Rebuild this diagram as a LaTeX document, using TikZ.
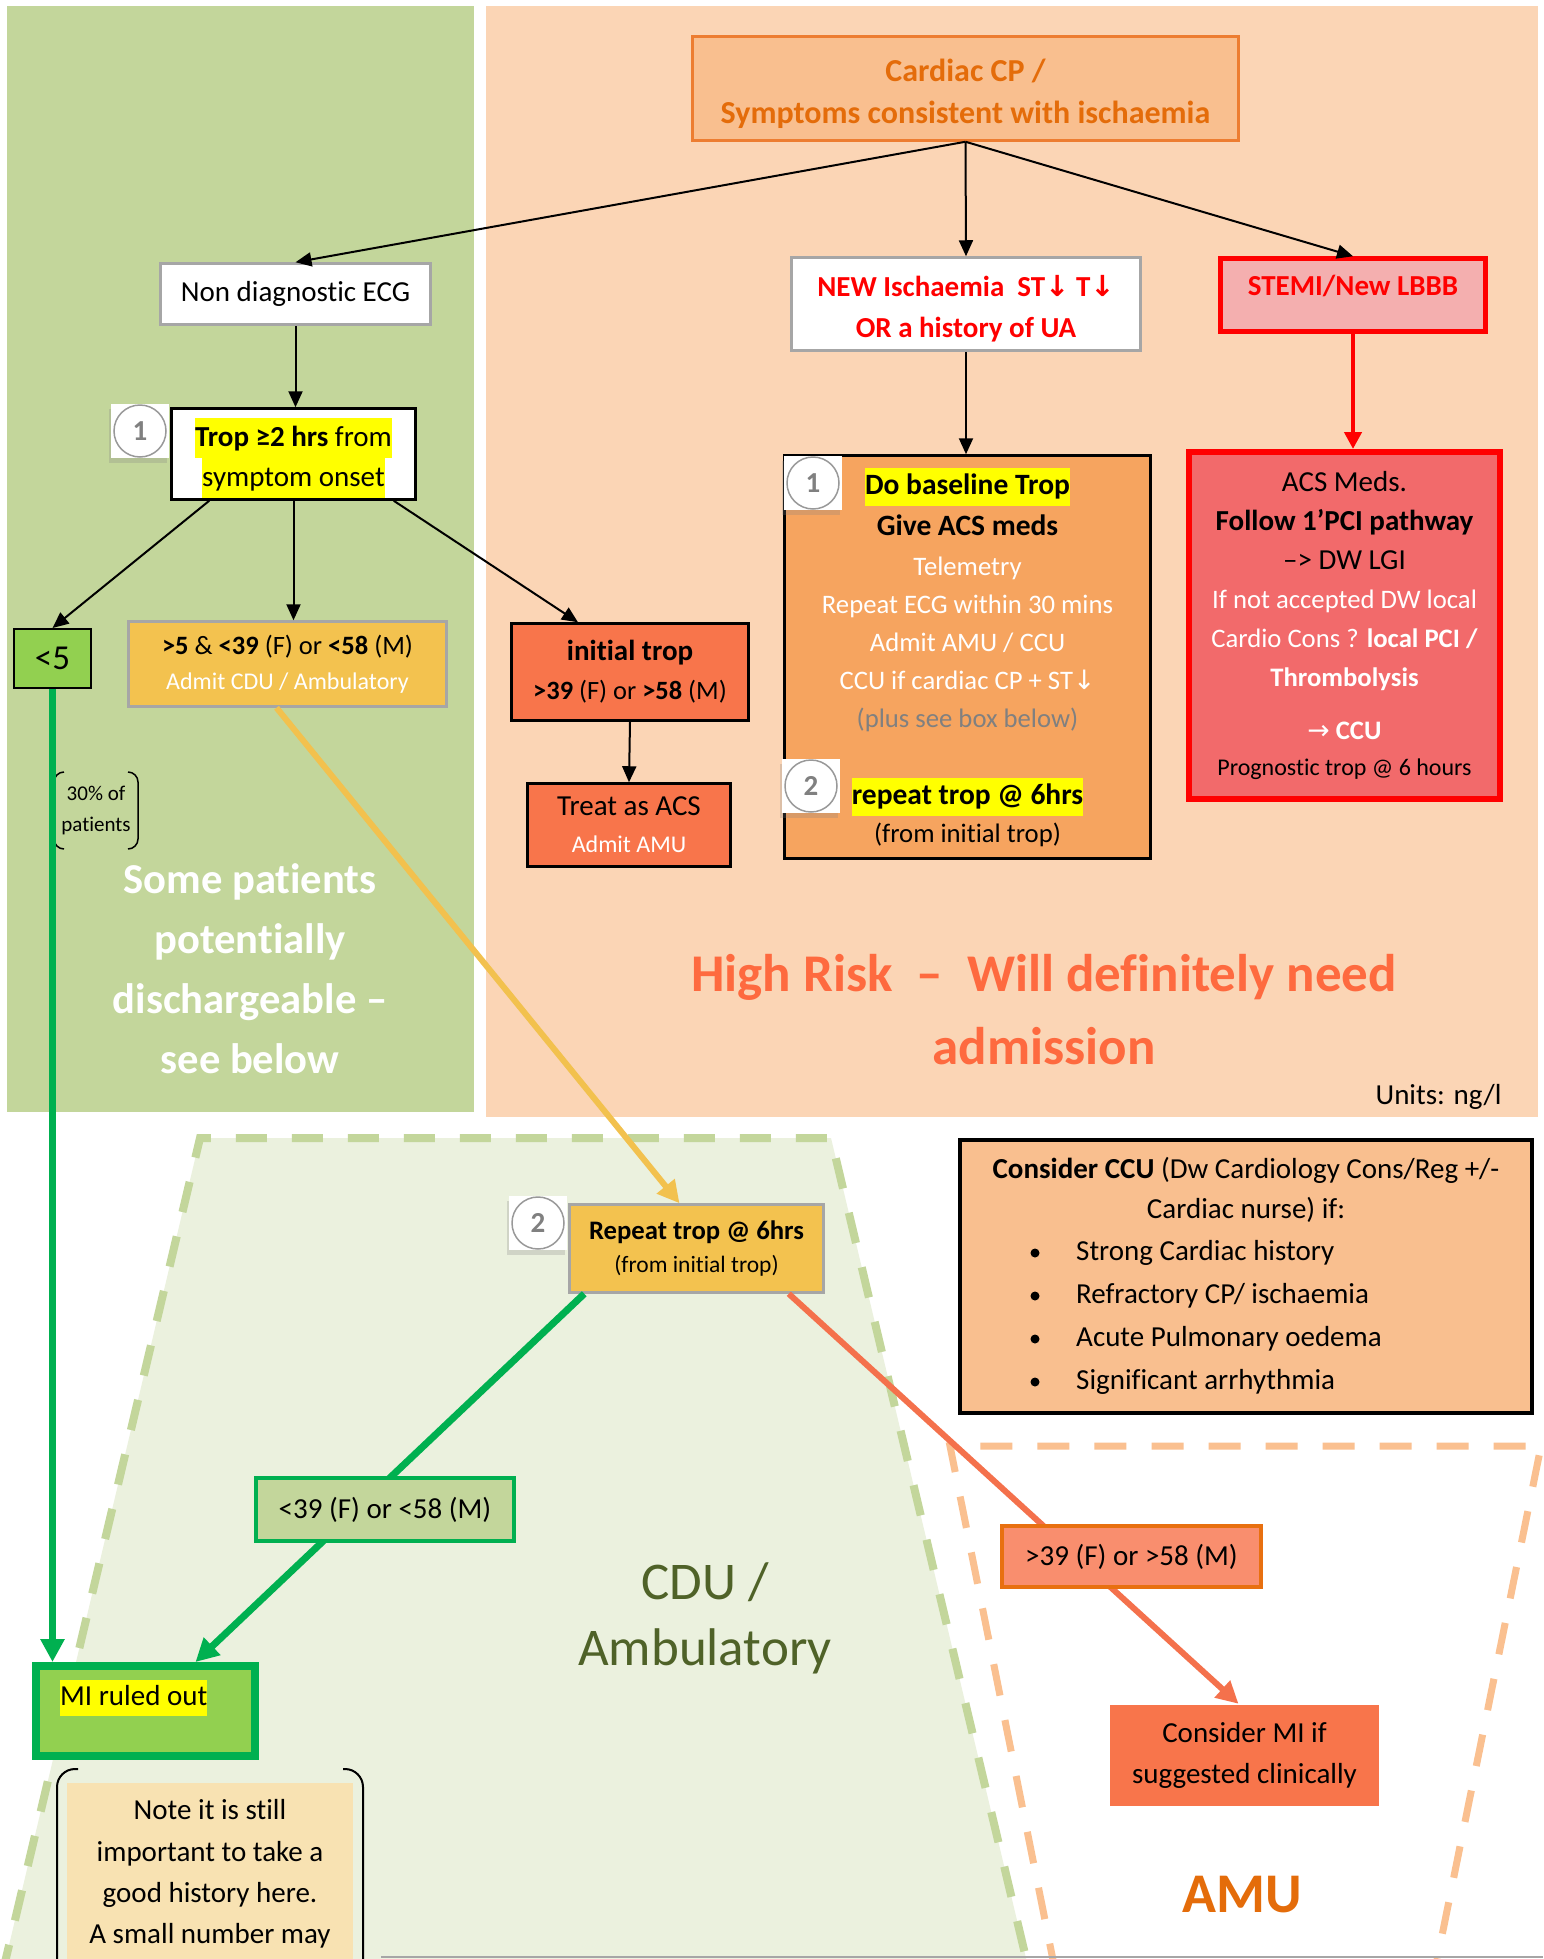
\documentclass[tikz,border=0pt]{standalone}
\usepackage{fontspec}
\setmainfont{Carlito}[Ligatures={TeX,NoCommon}]
\newfontfamily\symfont{DejaVu Sans}
\usetikzlibrary{arrows.meta,shadows}

\definecolor{panelgreen}{HTML}{C3D69B}
\definecolor{panelpeach}{HTML}{FBD5B5}
\definecolor{cdufill}{HTML}{EBF1DE}
\definecolor{amudash}{HTML}{FAC090}
\definecolor{cpfill}{HTML}{F9BF8F}
\definecolor{cpline}{HTML}{ED7D31}
\definecolor{cptext}{HTML}{E46C0A}
\definecolor{basefill}{HTML}{F6A45F}
\definecolor{acsfill}{HTML}{F26A6B}
\definecolor{stemifill}{HTML}{F4AFAF}
\definecolor{coralfill}{HTML}{F8754B}
\definecolor{goldfill}{HTML}{F3C24F}
\definecolor{hifill}{HTML}{F98E6E}
\definecolor{hiline}{HTML}{E87010}
\definecolor{okgreen}{HTML}{92D050}
\definecolor{darkgreen}{HTML}{00B050}
\definecolor{cduolive}{HTML}{4F6228}
\definecolor{riskred}{HTML}{FE6A3F}
\definecolor{notefill}{HTML}{F8E2B2}
\definecolor{hlyellow}{HTML}{FFFF00}
\definecolor{boxgray}{HTML}{A6A6A6}
\definecolor{plusgray}{HTML}{808080}
\definecolor{yellowline}{HTML}{F2C14E}
\definecolor{coralline}{HTML}{F4714C}

\newcommand\fsz[2]{\fontsize{#1}{#2}\selectfont}
\newcommand\hl[1]{{\fboxsep=0pt\colorbox{hlyellow}{\strut#1}}}
\newcommand\dn{{\symfont ↓}}

\tikzset{
  box/.style={draw, line width=2.5pt, align=center, inner sep=0pt},
  arr/.style={line width=2pt, -{Triangle[length=16pt,width=14pt]}},
  redarr/.style={red, line width=4.5pt, -{Triangle[length=17pt,width=17pt]}},
  greenarr/.style={darkgreen, line width=7pt, -{Triangle[length=23pt,width=23pt]}},
  yellowarr/.style={yellowline, line width=6pt, -{Triangle[length=22pt,width=22pt]}},
  coralarr/.style={coralline, line width=6pt, -{Triangle[length=22pt,width=22pt]}},
  badgesq/.style={fill=white, minimum width=58pt, minimum height=54pt, inner sep=0pt,
    drop shadow={opacity=.25, shadow xshift=-2pt, shadow yshift=-5pt}},
  badgeno/.style={circle, draw=gray!80, line width=1.5pt, minimum size=52pt, inner sep=0pt,
    text=gray, font=\fsz{29}{35}\bfseries},
}

\newcommand\badge[3]{%
  \node[badgesq] (#1sq) at (#2) {};
  \node[badgeno] (#1) at (#2) {#3};}

\begin{document}
\begin{tikzpicture}[x=1pt,y=-1pt]

    \def\cdutrap{(2,1975) -- (200,1138) -- (831,1138) -- (1030,1975)}
    \def\amutrap{(1056,1975) -- (950,1446) -- (1541,1446) -- (1434,1975)}

    \clip (0,0) rectangle (1543,1959);
    \fill[white] (0,0) rectangle (1543,1959);

    %panels:
    \fill[panelgreen] (7,6) rectangle (474,1112);
    \fill[panelpeach] (486,6) rectangle (1538,1117);

    %CDU and AMU areas:
    \fill[cdufill] \cdutrap -- cycle;
    \draw[panelgreen, line width=8pt, dash pattern=on 31pt off 25pt] \cdutrap;
    \draw[amudash, line width=7pt, dash pattern=on 32pt off 25pt] \amutrap;

    %big labels:
    \node[font=\fsz{42.6}{60}\bfseries, text=white, align=center] (some) at (250,969)
        {Some patients\\potentially\\dischargeable –\\see below};
    \node[font=\fsz{53}{73}\bfseries, text=riskred, align=center] (risk) at (1044,1010)
        {High Risk\ \ –\ \ Will definitely need\\admission};
    \node[font=\fsz{29}{35}, anchor=east] (units) at (1505,1097) {Units: ng/l};
    \node[font=\fsz{53}{66}, text=cduolive, align=center] (cdu) at (705,1618) {CDU /\\Ambulatory};
    \node[font=\fsz{56}{60}\bfseries, text=cptext] (amu) at (1242,1895) {AMU};

    %30% bracket:
    \node[font=\fsz{21}{31}, align=center] (pct) at (96,810) {30\% of\\patients};
    \draw[line width=1.5pt, rounded corners=10pt] (64,772) -- (54,772) -- (54,849) -- (64,849);
    \draw[line width=1.5pt, rounded corners=10pt] (128,772) -- (138,772) -- (138,849) -- (128,849);

    %note:
    \fill[notefill] (67,1783) rectangle (353,1990);
    \draw[line width=2pt, rounded corners=18pt] (78,1769) -- (57,1769) -- (57,1975);
    \draw[line width=2pt, rounded corners=18pt] (343,1769) -- (363,1769) -- (363,1975);
    \node[font=\fsz{29}{41.3}, align=center] (note) at (210,1874)
        {Note it is still\\important to take a\\good history here.\\A small number may};

    %boxes:
    \node[box, draw=cpline, fill=cpfill, minimum width=546pt, minimum height=104pt] (cp) at (965.5,88.5) {};
    \node[font=\fsz{32}{42}\bfseries, text=cptext, align=center] (cptext) at (965.5,94)
        {Cardiac CP /\\Symptoms consistent with ischaemia};
    \node[box, draw=boxgray, fill=white, minimum width=270pt, minimum height=61pt,
        font=\fsz{29}{35}] (nondiag) at (295.5,294) {Non diagnostic ECG};
    \node[box, fill=white, minimum width=244pt, minimum height=91pt] (trop) at (293.5,454) {};
    \node[font=\fsz{29}{40}, align=center] (troptext) at (293.5,458)
        {\hl{\textbf{Trop ≥2 hrs} from}\\\hl{symptom onset}};
    \node[box, draw=boxgray, fill=white, minimum width=349pt, minimum height=93pt] (newis) at (966,304) {};
    \node[font=\fsz{29}{41}\bfseries, text=red, align=center] (newistext) at (966,309)
        {NEW Ischaemia\ \ ST\dn{} T\dn\\OR a history of UA};
    \node[box, draw=red, line width=4.5pt, fill=stemifill, minimum width=265pt, minimum height=73pt,
        font=\fsz{29}{35}\bfseries, text=red, text depth=19pt] (stemi) at (1353,295) {STEMI/New LBBB};
    \node[box, fill=basefill, minimum width=366pt, minimum height=403pt,
        font=\fsz{26.7}{38}] (base) at (967.5,657)
        {\hl{\fsz{29.5}{38}\bfseries Do baseline Trop}\\[3pt]
         {\fsz{29.5}{38}\bfseries Give ACS meds}\\[2pt]
         \textcolor{white}{Telemetry}\\
         \textcolor{white}{Repeat ECG within 30 mins}\\
         \textcolor{white}{Admit AMU / CCU}\\
         \textcolor{white}{CCU if cardiac CP + ST\dn}\\
         \textcolor{plusgray}{(plus see box below)}\\[39pt]
         \hl{\fsz{29.5}{38}\bfseries repeat trop @ 6hrs}\\
         (from initial trop)};
    \node[box, draw=red, line width=6pt, fill=acsfill, minimum width=311pt, minimum height=347pt,
        font=\fsz{29}{39}] (acs) at (1344.5,625.5)
        {ACS Meds.\\
         \textbf{Follow 1’PCI pathway}\\
         –> DW LGI\\
         \textcolor{white}{\fsz{26.7}{38}If not accepted DW local}\\
         \textcolor{white}{\fsz{26.7}{38}Cardio Cons ? \textbf{local PCI /}}\\
         \textcolor{white}{\fsz{26.7}{38}\textbf{Thrombolysis}}\\[14pt]
         \textcolor{white}{\fsz{26.7}{38}{\symfont →} \textbf{CCU}}\\[-3pt]
         {\fsz{24}{36}Prognostic trop @ 6 hours}};
    \node[box, line width=2pt, fill=okgreen, minimum width=77pt, minimum height=59pt,
        font=\fsz{35}{40}] (lt5) at (52.5,658.5) {<5};
    \node[box, draw=boxgray, fill=goldfill, minimum width=318pt, minimum height=85pt,
        font=\fsz{26.5}{35}] (mid) at (287.5,664)
        {\textbf{>5} \& \textbf{<39} (F) or \textbf{<58} (M)\\
         \textcolor{white}{\fsz{24}{35}Admit CDU / Ambulatory}};
    \node[box, fill=coralfill, minimum width=237pt, minimum height=97pt,
        font=\fsz{26.4}{39}] (init) at (630,672)
        {{\fsz{29}{39}\bfseries initial trop}\\\textbf{>39} (F) or \textbf{>58} (M)};
    \node[box, fill=coralfill, minimum width=203pt, minimum height=83pt,
        font=\fsz{29}{37}] (treat) at (629,825)
        {Treat as ACS\\\textcolor{white}{\fsz{24}{37}Admit AMU}};
    \node[box, draw=boxgray, fill=goldfill, minimum width=254pt, minimum height=88pt,
        font=\fsz{26.7}{33}] (rep) at (696.5,1248.5)
        {\textbf{Repeat trop @ 6hrs}\\{\fsz{23.5}{33}(from initial trop)}};
    \node[box, draw=darkgreen, line width=8pt, fill=okgreen, minimum width=219pt,
        minimum height=90pt] (mi) at (145.5,1711) {};
    \node[font=\fsz{29}{36}, anchor=west, inner sep=0pt] (mitext) at (60,1698) {\hl{MI ruled out}};
    \node[box, draw=none, fill=coralfill, minimum width=269pt, minimum height=101pt,
        font=\fsz{29}{41}] (cmi) at (1244.5,1755.5) {Consider MI if\\suggested clinically};

    %consider CCU box:
    \node[box, line width=4pt, fill=cpfill, minimum width=572pt, minimum height=273pt] (ccu) at (1246,1276.5) {};
    \node[font=\fsz{29}{40}, align=center] (ccuhead) at (1246,1190)
        {\textbf{Consider CCU} (Dw Cardiology Cons/Reg +/-\\Cardiac nurse) if:};
    \foreach \y/\t in {1253/{Strong Cardiac history}, 1296/{Refractory CP/ ischaemia},
                      1339/{Acute Pulmonary oedema}, 1382/{Significant arrhythmia}} {
        \fill (1035,\y) circle (4.5pt);
        \node[font=\fsz{29}{40}, anchor=west, inner sep=0pt] (item\y) at (1076,\y) {\t};
    }

    %connectors:
    \draw[arr] (cp.south) -- (nondiag.north);
    \draw[arr] (cp.south) -- (newis.north);
    \draw[arr] (cp.south) -- (stemi.north);
    \draw[arr] (nondiag.south) -- (nondiag.south |- trop.north);
    \draw[arr] ([xshift=39pt]trop.south west) -- (lt5.north);
    \draw[arr] (trop.south) -- (trop.south |- mid.north);
    \draw[arr] ([xshift=-23pt]trop.south east) -- ([xshift=-52pt]init.north);
    \draw[arr] (init.south) -- (treat.north);
    \draw[arr] (newis.south) -- (newis.south |- base.north);
    \draw[redarr] (stemi.south) -- (stemi.south |- acs.north);
    \draw[yellowarr] ([xshift=-11pt]mid.south) -- ([xshift=-17pt]rep.north);
    \draw[greenarr] (lt5.south) -- (lt5.south |- mi.north);
    \draw[greenarr] ([xshift=16pt]rep.south west) -- ([xshift=50pt]mi.north);
    \draw[coralarr] ([xshift=-36pt]rep.south east) -- ([xshift=-6pt]cmi.north);

    %labels on the lines:
    \node[box, draw=darkgreen, line width=4pt, fill=panelgreen, minimum width=258pt, minimum height=63pt,
        font=\fsz{29}{35}] (lo) at (385,1509.5) {<39 (F) or <58 (M)};
    \node[box, draw=hiline, line width=4pt, fill=hifill, minimum width=259pt, minimum height=61pt,
        font=\fsz{29}{35}] (hi) at (1131.5,1556.5) {>39 (F) or >58 (M)};

    %numbered steps:
    \badge{b1}{140,431}{1}
    \badge{b2}{813,483}{1}
    \badge{b3}{811,786}{2}
    \badge{b4}{538,1223}{2}

    %bottom rule:
    \draw[gray!70, line width=2pt] (381,1957) -- (1543,1957);

\end{tikzpicture}
\end{document}
